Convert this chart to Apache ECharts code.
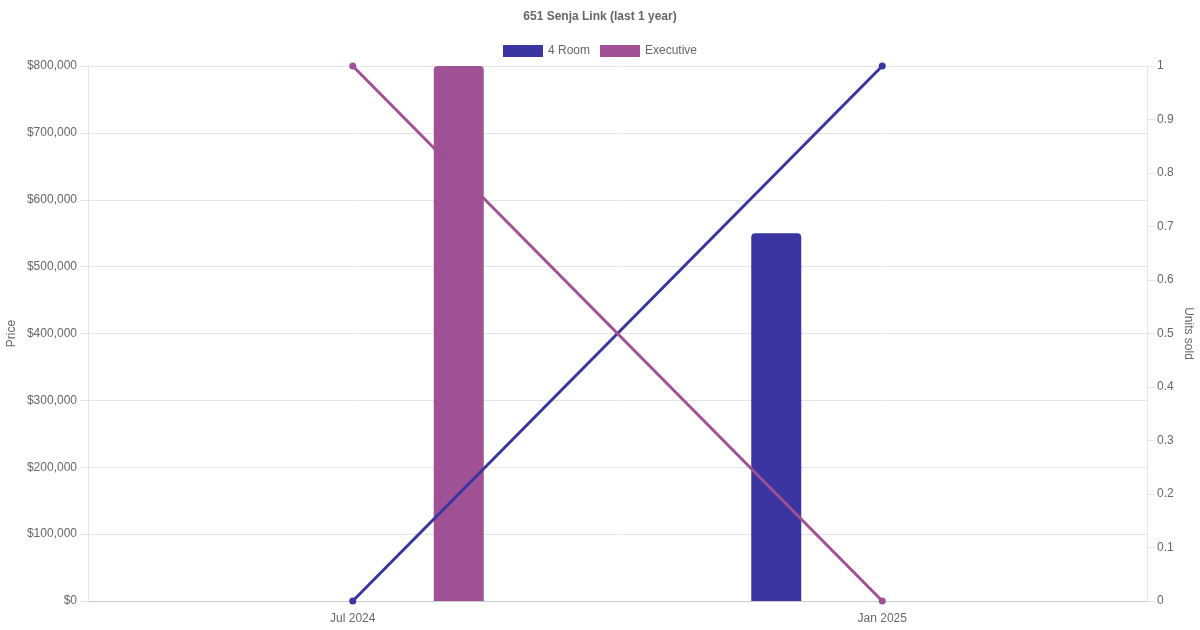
<!DOCTYPE html>
<html>
<head>
<meta charset="utf-8">
<script src="https://cdn.jsdelivr.net/npm/echarts@6/dist/echarts.min.js"></script>
<style>
html,body{margin:0;padding:0;background:#fff;}
#c{width:1200px;height:630px;}
</style>
</head>
<body>
<div id="c"></div>
<script>
const categories = ['Jul 2024', 'Jan 2025'];
const seriesNames = ['4 Room', 'Executive'];
const priceRoom4 = [null, 550000];
const priceExecutive = [800000, null];
const unitsRoom4 = [0, 1];
const unitsExecutive = [1, 0];
const colors = ['#3a35a0', '#a05195'];

const chart = echarts.init(document.getElementById('c'), null, {renderer: 'canvas'});
const font = 'Liberation Sans, Arial, Helvetica, sans-serif';
const gray = '#666';
chart.setOption({
  animation: false,
  textStyle: {fontFamily: font},
  title: {
    text: '651 Senja Link (last 1 year)',
    left: 'center', top: 6,
    textStyle: {fontSize: 12, fontWeight: 'bold', color: gray, fontFamily: font}
  },
  legend: {
    top: 40, left: 'center',
    itemWidth: 40, itemHeight: 12, itemGap: 10,
    data: seriesNames.map((n, i) => ({name: n, icon: 'rect', itemStyle: {color: colors[i]}})),
    textStyle: {fontSize: 12, color: gray, fontFamily: font}
  },
  grid: {left: 88, right: 53, top: 66, bottom: 29, containLabel: false, outerBoundsMode: 'none'},
  xAxis: {
    type: 'category', data: categories, boundaryGap: true,
    axisLine: {show: true, lineStyle: {color: '#ccc', width: 1}},
    axisTick: {show: false},
    axisLabel: {color: gray, fontSize: 12, margin: 12, fontFamily: font},
    splitLine: {show: false}
  },
  yAxis: [
    {
      type: 'value', min: 0, max: 800000, interval: 100000,
      name: 'Price', nameLocation: 'middle', nameGap: 70, nameMoveOverlap: false,
      nameTextStyle: {color: gray, fontSize: 12, fontFamily: font},
      axisLine: {show: true, lineStyle: {color: '#e5e5e5'}},
      axisTick: {show: true, length: 8, lineStyle: {color: '#e5e5e5'}},
      axisLabel: {color: gray, fontSize: 12, margin: 11, fontFamily: font,
        formatter: v => '$' + v.toLocaleString('en-US')},
      splitLine: {show: true, lineStyle: {color: '#e5e5e5'}}
    },
    {
      type: 'value', min: 0, max: 1, interval: 0.1, position: 'right',
      name: 'Units sold', nameLocation: 'middle', nameGap: 35, nameRotate: -90, nameMoveOverlap: false,
      nameTextStyle: {color: gray, fontSize: 12, fontFamily: font},
      axisLine: {show: true, lineStyle: {color: '#e5e5e5'}},
      axisTick: {show: true, length: 8, lineStyle: {color: '#e5e5e5'}},
      axisLabel: {color: gray, fontSize: 12, margin: 10, fontFamily: font,
        formatter: v => String(Math.round(v * 10) / 10)},
      splitLine: {show: false}
    }
  ],
  series: [
    {name: seriesNames[0], type: 'bar', data: priceRoom4, yAxisIndex: 0,
      barWidth: 50, barGap: '324%',
      itemStyle: {color: colors[0], borderRadius: [4, 4, 0, 0]}},
    {name: seriesNames[1], type: 'bar', data: priceExecutive, yAxisIndex: 0,
      barWidth: 50, barGap: '324%',
      itemStyle: {color: colors[1], borderRadius: [4, 4, 0, 0]}},
    {name: seriesNames[0], type: 'line', data: unitsRoom4, yAxisIndex: 1,
      symbol: 'circle', symbolSize: 7, showSymbol: true,
      lineStyle: {color: colors[0], width: 3}, itemStyle: {color: colors[0]}},
    {name: seriesNames[1], type: 'line', data: unitsExecutive, yAxisIndex: 1,
      symbol: 'circle', symbolSize: 7, showSymbol: true,
      lineStyle: {color: colors[1], width: 3}, itemStyle: {color: colors[1]}}
  ]
});
</script>
</body>
</html>
